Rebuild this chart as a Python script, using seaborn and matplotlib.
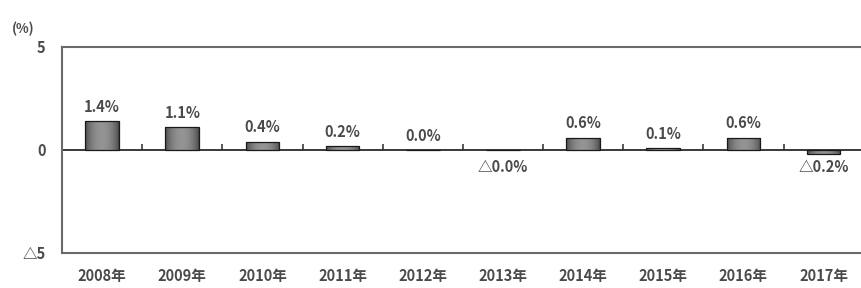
import matplotlib
matplotlib.use("Agg")
import matplotlib.pyplot as plt
import numpy as np
import pandas as pd
import seaborn as sns

# ──── data ────
years = ["2008年", "2009年", "2010年", "2011年", "2012年",
         "2013年", "2014年", "2015年", "2016年", "2017年"]
rates = [1.4, 1.1, 0.4, 0.2, 0.0, -0.01, 0.6, 0.1, 0.6, -0.2]
y_ticks = [-5, 0, 5]
y_tick_labels = ["△5", "0", "5"]

# ──── style ────
sns.set_theme(style="white")
plt.rcParams["font.family"] = ["Noto Sans CJK JP", "DejaVu Sans"]
text_color = "#4a4a4a"

df = pd.DataFrame({"year": years, "rate": rates})

fig = plt.figure(figsize=(8.62, 2.88), dpi=100)
ax = fig.add_axes([0.072, 0.122, 0.93, 0.715])

sns.barplot(data=df, x="year", y="rate", ax=ax, width=0.42,
            color="#666666", edgecolor="#1a1a1a", linewidth=0.9)

# gradient fill clipped to each bar
grad = np.linspace(0, 1, 64)
grad = 0.28 + 0.3 * np.sin(grad * np.pi) ** 0.7
grad = np.vstack([grad, grad])
for patch in ax.patches:
    bb = patch.get_bbox()
    im = ax.imshow(grad, extent=[bb.x0, bb.x1, bb.y0, bb.y1], aspect="auto",
                   cmap="gray", vmin=0, vmax=1, zorder=patch.get_zorder() + 0.1)
    im.set_clip_path(patch)
    patch.set_facecolor("none")
    patch.set_zorder(patch.get_zorder() + 0.2)

# value labels
for i, v in enumerate(rates):
    txt = f"{abs(v):.1f}%"
    if v < 0:
        ax.text(i, -0.45, "△" + txt, ha="center", va="top",
                fontsize=10.5, fontweight="bold", color=text_color)
    else:
        ax.text(i, v + 0.3, txt, ha="center", va="bottom",
                fontsize=10.5, fontweight="bold", color=text_color)

# zero line with category-boundary ticks
ax.axhline(0, color="#2a2a2a", linewidth=1.3, zorder=1)
ax.vlines(np.arange(len(years) - 1) + 0.5, 0, 0.3, color="#2a2a2a", linewidth=1.1)

ax.set_xlim(-0.5, len(years) - 0.5)
ax.set_ylim(-5, 5)
ax.set_yticks(y_ticks)
ax.set_yticklabels(y_tick_labels)
ax.set_xlabel("")
ax.set_ylabel("")
ax.tick_params(axis="both", length=0, labelsize=10.5, colors=text_color)
ax.tick_params(axis="x", pad=11)
ax.tick_params(axis="y", pad=12)
for lab in ax.get_xticklabels() + ax.get_yticklabels():
    lab.set_fontweight("bold")

for side in ["top", "left", "bottom"]:
    ax.spines[side].set_color("#6a6a6a")
    ax.spines[side].set_linewidth(1.5)
ax.spines["right"].set_visible(False)

fig.text(0.014, 0.885, "(%)", fontsize=9.5, fontweight="bold", color=text_color)

fig.savefig("out.png", dpi=100)
plt.close(fig)
